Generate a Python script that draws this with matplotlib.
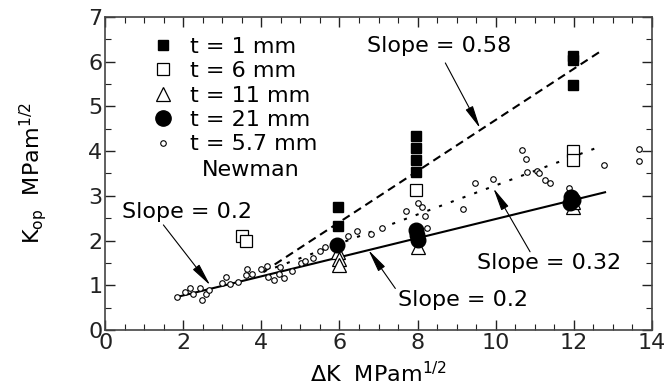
import numpy as np
import matplotlib
matplotlib.use("Agg")
import matplotlib.pyplot as plt
from matplotlib.lines import Line2D

plt.rcParams['font.family'] = ['DejaVu Sans']
plt.rcParams['mathtext.fontset'] = 'dejavusans'

# t = 1 mm (filled squares)
t1_x = [5.97, 5.97, 7.95, 7.95, 7.95, 7.95, 11.97, 11.97, 11.97]
t1_y = [2.74, 2.33, 4.34, 4.06, 3.80, 3.53, 6.13, 6.04, 5.47]

# t = 6 mm (open squares)
t6_x = [3.50, 3.60, 7.95, 11.98, 11.98]
t6_y = [2.10, 1.98, 3.12, 4.01, 3.79]

# t = 11 mm (open triangles)
t11_x = [5.97, 6.0, 6.0, 8.0, 11.98, 11.98]
t11_y = [1.75, 1.58, 1.45, 1.86, 2.76, 2.86]

# t = 21 mm (filled circles)
t21_x = [5.93, 7.95, 7.98, 8.02, 11.93, 11.98, 11.90]
t21_y = [1.90, 2.24, 2.13, 2.01, 2.98, 2.91, 2.83]

# t = 5.7 mm, Newman (small open circles)
nw_x = [1.84, 2.05, 2.16, 2.26, 2.42, 2.47, 2.59, 2.67, 2.99, 3.10, 3.20, 3.39,
        3.63, 3.60, 3.76, 4.00, 4.14, 4.18, 4.33, 4.44, 4.48, 4.57, 4.78, 5.01,
        5.12, 5.33, 5.51, 5.63, 6.23, 6.46, 6.81, 7.10, 7.71, 8.02, 8.11, 8.18,
        8.25, 9.17, 9.48, 9.94, 10.68, 10.78, 10.80, 11.05, 11.10, 11.25, 11.38,
        11.88, 12.78, 13.68, 13.68]
nw_y = [0.74, 0.86, 0.95, 0.80, 0.95, 0.67, 0.81, 0.89, 1.06, 1.18, 1.02, 1.08,
        1.36, 1.23, 1.25, 1.37, 1.43, 1.18, 1.13, 1.25, 1.42, 1.17, 1.33, 1.49,
        1.55, 1.62, 1.77, 1.86, 2.10, 2.21, 2.15, 2.29, 2.66, 2.83, 2.75, 2.55,
        2.27, 2.70, 3.28, 3.37, 4.03, 3.82, 3.54, 3.55, 3.50, 3.36, 3.28,
        3.17, 3.69, 4.04, 3.77]

# fitted lines (end points)
fit_solid_x = [1.84, 12.80]
fit_solid_y = [0.74, 3.08]
fit_dash_x = [4.05, 12.72]
fit_dash_y = [1.30, 6.25]
fit_dot_x = [4.05, 12.73]
fit_dot_y = [1.30, 4.12]

fig = plt.figure(figsize=(6.7, 3.92), dpi=100)
ax = fig.add_axes([0.157, 0.158, 0.816, 0.799])

ax.plot(fit_solid_x, fit_solid_y, color='black', lw=1.5, zorder=2)
ax.plot(fit_dash_x, fit_dash_y, color='black', lw=1.5, dashes=(4, 2.5), zorder=2)
ax.plot(fit_dot_x, fit_dot_y, color='black', lw=1.5, dashes=(1.5, 4.5), zorder=2)

ax.plot(nw_x, nw_y, 'o', ms=4, mfc='white', mec='black', mew=0.8, zorder=3)
ax.plot(t6_x, t6_y, 's', ms=9, mfc='white', mec='black', mew=0.9, zorder=4)
ax.plot(t11_x, t11_y, '^', ms=10, mfc='white', mec='black', mew=0.9, zorder=4)
ax.plot(t21_x, t21_y, 'o', ms=10.5, mfc='black', mec='black', zorder=5)
ax.plot(t1_x, t1_y, 's', ms=7.5, mfc='black', mec='black', zorder=5)

ax.set_xlim(0, 14)
ax.set_ylim(0, 7)
ax.set_xticks(np.arange(0, 15, 2))
ax.set_yticks(np.arange(0, 8, 1))
ax.set_xticks(np.arange(0, 14.01, 0.5), minor=True)
ax.set_yticks(np.arange(0, 7.01, 0.5), minor=True)
ax.tick_params(which='both', direction='in', top=True, right=True,
               labelsize=16, colors='#222222')
ax.tick_params(which='major', length=7, width=1, pad=2)
ax.tick_params(which='minor', length=4, width=0.8)
for s in ax.spines.values():
    s.set_color('#444444')
    s.set_linewidth(1.2)

ax.set_xlabel(r'$\Delta$K  MPam$^{1/2}$', fontsize=16, labelpad=6)
ax.set_ylabel(r'K$_{\rm op}$  MPam$^{1/2}$', fontsize=16, labelpad=28)

handles = [
    Line2D([], [], ls='none', marker='s', ms=7, mfc='black', mec='black'),
    Line2D([], [], ls='none', marker='s', ms=9, mfc='white', mec='black', mew=0.9),
    Line2D([], [], ls='none', marker='^', ms=10, mfc='white', mec='black', mew=0.9),
    Line2D([], [], ls='none', marker='o', ms=11, mfc='black', mec='black'),
    Line2D([], [], ls='none', marker='o', ms=4, mfc='white', mec='black', mew=0.8),
]
labels = ['t = 1 mm', 't = 6 mm', 't = 11 mm', 't = 21 mm', 't = 5.7 mm']
ax.legend(handles, labels, loc='upper left', bbox_to_anchor=(0.07, 0.965),
          frameon=False, fontsize=16, handlelength=1.0, handletextpad=0.7,
          labelspacing=0.2, borderaxespad=0)
ax.text(2.48, 3.58, 'Newman', fontsize=16, ha='left', va='center')

arrow = dict(arrowstyle='-|>,head_length=1.4,head_width=0.25', color='black',
             lw=0.8, shrinkA=0, shrinkB=0)
ax.annotate('', xy=(9.6, 4.51), xytext=(8.71, 5.97), arrowprops=arrow)
ax.text(6.7, 6.35, 'Slope = 0.58', fontsize=16, ha='left', va='center')
ax.annotate('', xy=(2.69, 1.0), xytext=(1.49, 2.35), arrowprops=arrow)
ax.text(0.44, 2.64, 'Slope = 0.2', fontsize=16, ha='left', va='center')
ax.annotate('', xy=(9.94, 3.17), xytext=(10.88, 1.75), arrowprops=arrow)
ax.text(9.52, 1.51, 'Slope = 0.32', fontsize=16, ha='left', va='center')
ax.annotate('', xy=(6.74, 1.79), xytext=(7.43, 0.93), arrowprops=arrow)
ax.text(7.51, 0.67, 'Slope = 0.2', fontsize=16, ha='left', va='center')

fig.savefig('out.png', dpi=100)
